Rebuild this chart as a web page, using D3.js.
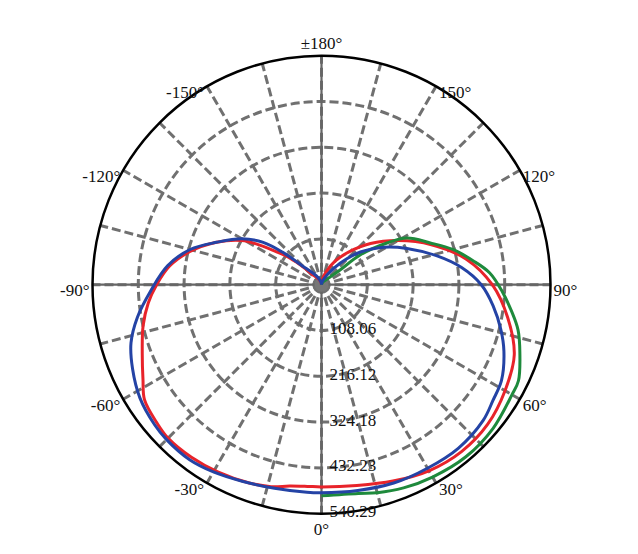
<!DOCTYPE html>
<html><head><meta charset="utf-8">
<script src="https://cdn.jsdelivr.net/npm/d3@7"></script>
<style>body{margin:0;background:#fff}svg{display:block}</style>
</head><body><svg id="c" width="638" height="554"></svg>
<script>
const maxValue = 540.29;
const ringValues = [108.06, 216.12, 324.18, 432.23, 540.29];
const ringLabels = ["108.06", "216.12", "324.18", "432.23", "540.29"];
const angleTicks = [0, 30, 60, 90, 120, 150, 180, -150, -120, -90, -60, -30];
const angleLabels = ["0°", "30°", "60°", "90°", "120°", "150°", "±180°", "-150°", "-120°", "-90°", "-60°", "-30°"];
const spokeAngles = d3.range(0, 360, 15);

const redAngles = [-180,-170,-160,-150,-140,-135,-132,-131,-129,-126,-122,-119,-112,-104,-97,-90,-84,-77,-69,-62,-57,-50,-45,-37,-29,-20,-14,-9,-4,0,10,20,30,40,50,60,70,80,90,100,110,120,130,140,150,160,170,180];
const redValues = [0,5,9,17,28,52,80,87,109,134,182,215,267,321,361,389,411,432,453,477,498,507,512,510,505,498,491,481,477,477,481,493,507,514,512,500,484,446,403,347,276,208,151,101,64,33,14,0];

const greenAngles = [0,10,15,22,30,40,50,60,64,71,77,82,88,94,99,105,111,118.6,122.5,127.6,128.5,135,150,165,180];
const greenValues = [498,500,508,517,524,530,528,519,517,495,476,453,426,398,362,321,275,230,183,115,56,20,8,3,0];

const blueAngles = [-180,-170,-160,-150,-140,-135,-130,-126,-120,-112,-105,-97,-88,-80,-73,-66,-58,-50,-45,-37,-30,-22,-13,-4,0,10,20,30,40,50,56,62,70,76,83,90,97,104,113,121,130,139,150,160,170,180];
const blueValues = [0,5,12,24,42,61,118,170,217,267,321,366,403,441,470,488,505,514,517,517,510,500,493,491,491,493,498,500,503,498,488,481,458,436,408,377,333,281,219,172,120,68,28,12,5,0];

const FONT = "'Liberation Serif', 'Times New Roman', Times, 'DejaVu Serif', serif";
const W = 638, H = 554, cx = 321.5, cy = 284.7, R = 229;
const svg = d3.select("#c");
const g = svg.append("g").attr("transform", `translate(${cx},${cy})`);
const rScale = d3.scaleLinear().domain([0, maxValue]).range([0, R]);
const toRad = d => d * Math.PI / 180;
// angle convention: 0 at bottom, positive toward the right
const px = (deg, r) => r * Math.sin(toRad(deg));
const py = (deg, r) => r * Math.cos(toRad(deg));

const grid = "#707070";
g.selectAll("line.spoke").data(spokeAngles).join("line")
  .attr("x1", 0).attr("y1", 0)
  .attr("x2", d => px(d, R)).attr("y2", d => py(d, R))
  .attr("stroke", grid).attr("stroke-width", 3).attr("stroke-dasharray", "9,4");
g.selectAll("circle.ring").data(ringValues.slice(0, -1)).join("circle")
  .attr("r", d => rScale(d)).attr("fill", "none")
  .attr("stroke", grid).attr("stroke-width", 3).attr("stroke-dasharray", "9,4");
g.selectAll("line.axis").data([0, 90]).join("line")
  .attr("x1", d => px(d, R)).attr("y1", d => py(d, R))
  .attr("x2", d => px(d + 180, R)).attr("y2", d => py(d + 180, R))
  .attr("stroke", "#666").attr("stroke-width", 2.2);
g.append("circle").attr("r", 7).attr("fill", "#777");

const line = d3.lineRadial()
  .angle(d => Math.PI - toRad(d[0]))
  .radius(d => rScale(d[1]))
  .curve(d3.curveCatmullRom.alpha(0.5));
const series = [
  {a: redAngles, v: redValues, c: "#e8232a"},
  {a: greenAngles, v: greenValues, c: "#1e8a3c"},
  {a: blueAngles, v: blueValues, c: "#2443a5"}
];
series.forEach(s => {
  g.append("path").datum(d3.zip(s.a, s.v))
    .attr("d", line).attr("fill", "none")
    .attr("stroke", s.c).attr("stroke-width", 3).attr("stroke-linejoin", "round");
});

g.append("circle").attr("r", R).attr("fill", "none").attr("stroke", "#000").attr("stroke-width", 2.5);

g.selectAll("text.rl").data(ringValues).join("text")
  .attr("font-family", FONT).attr("fill", "#111")
  .attr("x", 8).attr("y", d => rScale(d) - 2)
  .attr("dominant-baseline", "central")
  .attr("font-size", 17).text((d, i) => ringLabels[i]);

angleTicks.forEach((a, i) => {
  const t = g.append("text").attr("font-family", FONT).attr("fill", "#111")
    .attr("font-size", 17).attr("text-anchor", "middle")
    .attr("dominant-baseline", "central").text(angleLabels[i]);
  const w = t.node().getComputedTextLength();
  const s = Math.sin(toRad(a)), c = Math.cos(toRad(a));
  let x = px(a, R), y = py(a, R);
  if (Math.abs(s) < 0.01) { y += c > 0 ? 16 : -12; }
  else { x += Math.sign(s) * (w / 2 + 3); y += 6; }
  t.attr("x", x).attr("y", y);
});
</script></body></html>
